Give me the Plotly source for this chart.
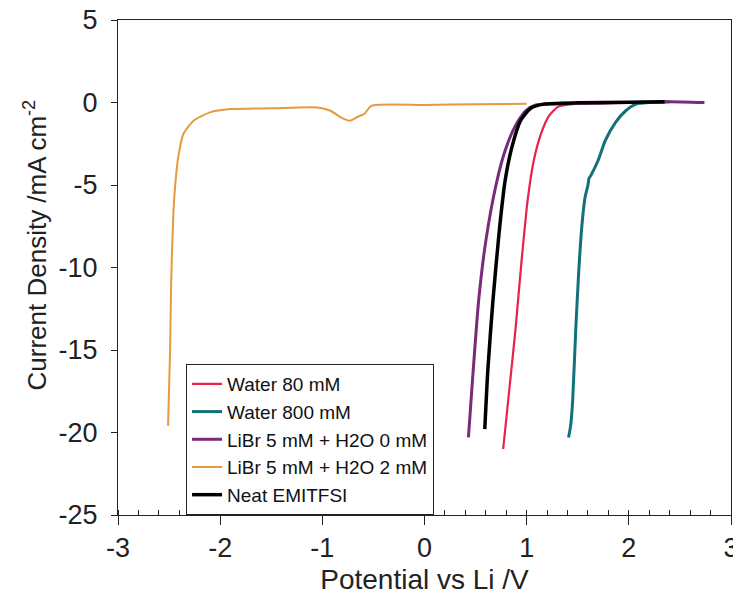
import plotly.graph_objects as go

# ---- data ----
water80_x = [0.77, 0.82, 0.89, 0.95, 1.01, 1.07, 1.14, 1.22, 1.31, 1.45, 1.7, 2.0, 2.35]
water80_y = [-21.0, -18.0, -13.8, -9.6, -5.9, -3.5, -1.9, -0.8, -0.25, -0.1, -0.05, 0.0, 0.02]

water800_x = [1.41, 1.43, 1.45, 1.48, 1.51, 1.54, 1.57, 1.60, 1.61, 1.63, 1.70, 1.77, 1.87, 1.97, 2.07, 2.2, 2.4]
water800_y = [-20.3, -19.6, -18.1, -13.8, -10.2, -7.5, -5.8, -5.0, -4.6, -4.4, -3.5, -2.3, -1.2, -0.5, -0.1, 0.0, 0.05]

libr0_x = [0.43, 0.47, 0.53, 0.60, 0.70, 0.79, 0.89, 0.99, 1.09, 1.5, 2.0, 2.4, 2.74]
libr0_y = [-20.3, -16.8, -12.0, -8.4, -5.0, -2.9, -1.4, -0.5, -0.15, -0.05, 0.0, 0.05, 0.0]

libr2_x = [-2.51, -2.49, -2.48, -2.46, -2.44, -2.41, -2.36, -2.26, -2.10, -1.90, -1.50, -1.05, -0.92,
           -0.82, -0.73, -0.65, -0.59, -0.52, 0.0, 0.5, 1.0]
libr2_y = [-19.6, -15.0, -11.0, -7.0, -5.0, -3.3, -1.9, -1.1, -0.6, -0.4, -0.35, -0.3, -0.5,
           -0.9, -1.1, -0.85, -0.7, -0.2, -0.15, -0.1, -0.08]

neat_x = [0.59, 0.62, 0.67, 0.73, 0.79, 0.86, 0.94, 1.04, 1.17, 1.5, 2.0, 2.35]
neat_y = [-19.8, -16.2, -12.0, -7.9, -4.7, -2.6, -1.1, -0.35, -0.1, -0.02, 0.02, 0.05]

series_names = ["Water 80 mM", "Water 800 mM", "LiBr 5 mM + H2O 0 mM", "LiBr 5 mM + H2O 2 mM", "Neat EMITFSI"]
series_x = [water80_x, water800_x, libr0_x, libr2_x, neat_x]
series_y = [water80_y, water800_y, libr0_y, libr2_y, neat_y]
colors = ["#e8204e", "#12707a", "#7a2a78", "#e8983e", "#000000"]
widths = [2.2, 3, 3, 2, 3.5]

x_ticks = [-3, -2, -1, 0, 1, 2, 3]
x_labels = ["-3", "-2", "-1", "0", "1", "2", "3"]
y_ticks = [5, 0, -5, -10, -15, -20, -25]
y_labels = ["5", "0", "-5", "-10", "-15", "-20", "-25"]

fig = go.Figure()
for name, xs, ys, c, w in zip(series_names, series_x, series_y, colors, widths):
    fig.add_trace(go.Scatter(x=xs, y=ys, mode="lines", name=name,
                             line=dict(color=c, width=w, shape="spline", smoothing=0.6),
                             legendgroup=name))

font = "Liberation Sans, Arial, sans-serif"
# the page body has an 8 px margin, so the figure is made 8 px smaller and shifted
fig.update_layout(
    width=733, height=599,
    margin=dict(l=110, r=10, t=12, b=92),
    paper_bgcolor="white", plot_bgcolor="white",
    font=dict(family=font, color="#222"),
    showlegend=True,
    legend=dict(x=0.111, y=0.305, xanchor="left", yanchor="top",
                bordercolor="#222", borderwidth=1, bgcolor="white",
                font=dict(size=19, family=font, color="#111"),
                itemwidth=30, tracegroupgap=0),
    xaxis=dict(range=[-3, 3], tickvals=x_ticks, ticktext=x_labels, ticks="outside", ticklen=9,
               tickcolor="#222", showline=True, linecolor="#222", linewidth=1,
               mirror=True, showgrid=False, zeroline=False, automargin=False,
               tickfont=dict(size=27), ticklabelstandoff=0, ticklabeloverflow="allow",
               title=dict(text="Potential vs Li /V", font=dict(size=28), standoff=6),
               minor=dict(dtick=0.2, ticks="inside", ticklen=5, tickcolor="#222", showgrid=False)),
    yaxis=dict(range=[-25, 5], tickvals=y_ticks, ticktext=y_labels, ticks="outside", ticklen=6,
               tickcolor="#222", showline=True, linecolor="#222", linewidth=1,
               mirror=True, showgrid=False, zeroline=False, automargin=False,
               tickfont=dict(size=27), ticklabelstandoff=8, ticklabeloverflow="allow"),
    annotations=[dict(text="Current Density /mA cm<sup>-2</sup>", textangle=-90,
                      xref="paper", yref="paper", x=-0.135, y=0.545,
                      xanchor="center", yanchor="middle", showarrow=False,
                      font=dict(size=26, family=font, color="#222"))],
)

fig.write_html("out.html")
